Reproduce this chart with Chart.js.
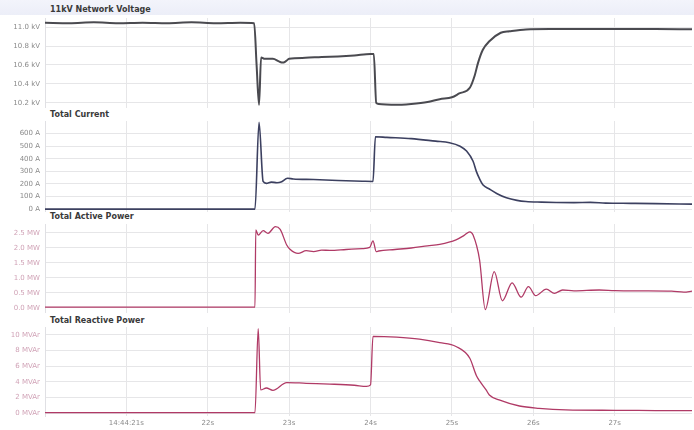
<!DOCTYPE html>
<html>
<head>
<meta charset="utf-8">
<script src="https://cdn.jsdelivr.net/npm/chart.js@4/dist/chart.umd.min.js"></script>
<style>
  html, body { margin: 0; padding: 0; background: #fff; }
  #wrap { position: relative; width: 694px; height: 430px; overflow: hidden; background: #fff; }
  #band { position: absolute; left: 0; top: 0; width: 694px; height: 15px; background: linear-gradient(#f3f4fb, #eceef8); }
  .panel { position: absolute; left: 0; width: 694px; }
  .ttl { position: absolute; left: 50px; font: bold 8px "DejaVu Sans", sans-serif; color: #3a3a3a; white-space: nowrap; }
</style>
</head>
<body>
<div id="wrap">
  <div id="band"></div>
  <div class="ttl" style="top:5px">11kV Network Voltage</div>
  <div class="panel" style="top:18px;height:90px"><canvas id="cVoltage"></canvas></div>
  <div class="ttl" style="top:110px">Total Current</div>
  <div class="panel" style="top:121px;height:91px"><canvas id="cCurrent"></canvas></div>
  <div class="ttl" style="top:212px">Total Active Power</div>
  <div class="panel" style="top:224px;height:89px"><canvas id="cActive"></canvas></div>
  <div class="ttl" style="top:316px">Total Reactive Power</div>
  <div class="panel" style="top:327px;height:103px"><canvas id="cReactive"></canvas></div>
</div>
<script>
// Time axis (seconds past 14:44:00)
const timeTicks = [21, 22, 23, 24, 25, 26, 27];
const timeTickLabels = ['14:44:21s', '22s', '23s', '24s', '25s', '26s', '27s'];

// 11 kV network voltage (kV)
const voltageTimes = [20.00, 20.30, 20.60, 20.90, 21.20, 21.50, 21.80, 22.10, 22.40, 22.57,
  22.60, 22.63, 22.655, 22.70, 22.80, 22.88, 22.92, 22.96, 23.00, 23.20, 23.40, 23.60, 23.80, 24.00, 24.04,
  24.07, 24.10, 24.30, 24.50, 24.70, 24.85, 25.00, 25.09, 25.22, 25.28, 25.32, 25.38, 25.46, 25.60, 25.71, 25.91,
  26.20, 26.60, 27.00, 27.50, 27.95];
const voltageValues = [11.045, 11.04, 11.05, 11.04, 11.045, 11.04, 11.05, 11.04, 11.045, 11.04,
  10.60, 10.18, 10.68, 10.665, 10.665, 10.635, 10.625, 10.64, 10.665, 10.675, 10.685, 10.69, 10.70, 10.715, 10.715,
  10.20, 10.19, 10.18, 10.19, 10.21, 10.24, 10.26, 10.30, 10.36, 10.49, 10.62, 10.76, 10.85, 10.94, 10.955, 10.975,
  10.98, 10.98, 10.978, 10.978, 10.976];

// Total current (A)
const currentTimes = [20.00, 21.00, 22.00, 22.58, 22.63, 22.68, 22.72, 22.78, 22.85, 22.90, 22.98, 23.05, 23.30,
  23.60, 23.90, 24.03, 24.06, 24.20, 24.50, 24.80, 24.97, 25.10, 25.18, 25.26, 25.30, 25.34, 25.38, 25.46, 25.55,
  25.67, 25.80, 25.91, 26.10, 26.28, 26.50, 26.70, 26.89, 27.20, 27.50, 27.95];
const currentValues = [0, 0, 0, 0, 690, 220, 205, 215, 210, 215, 245, 240, 235,
  228, 222, 220, 575, 570, 560, 540, 528, 500, 461, 380, 300, 240, 194, 160, 125,
  90, 70, 61, 56, 53, 52, 54, 48, 46, 44, 40];

// Total active power (MW)
const activeTimes = [20.00, 21.00, 22.00, 22.58, 22.59, 22.62, 22.68, 22.74, 22.83, 22.89, 22.97, 23.01, 23.11,
  23.21, 23.30, 23.40, 23.50, 23.70, 23.90, 23.99, 24.03, 24.07, 24.10, 24.30, 24.50, 24.70, 24.85, 25.05, 25.15,
  25.22, 25.26, 25.34, 25.41, 25.52, 25.62, 25.74, 25.85, 25.94, 26.03, 26.16, 26.26, 26.36, 26.50, 26.81, 27.00,
  27.30, 27.70, 27.85, 27.95];
const activeValues = [0.03, 0.03, 0.03, 0.03, 2.60, 2.43, 2.58, 2.49, 2.71, 2.62, 2.10, 1.96, 1.82,
  1.91, 1.88, 1.93, 1.92, 1.95, 1.98, 2.02, 2.24, 1.88, 1.90, 1.95, 2.00, 2.07, 2.12, 2.27, 2.42,
  2.54, 2.43, 1.60, -0.05, 1.21, 0.24, 0.84, 0.36, 0.71, 0.41, 0.63, 0.49, 0.60, 0.57, 0.60, 0.58,
  0.57, 0.56, 0.53, 0.56];

// Total reactive power (MVAr)
const reactiveTimes = [20.00, 21.00, 22.00, 22.58, 22.62, 22.65, 22.72, 22.80, 22.97, 23.21, 23.50, 23.80, 23.95,
  24.00, 24.03, 24.32, 24.60, 24.85, 25.05, 25.22, 25.30, 25.34, 25.42, 25.46, 25.58, 25.83, 26.07, 26.40, 27.00,
  27.50, 27.95];
const reactiveValues = [0.05, 0.05, 0.05, 0.05, 10.8, 2.95, 3.2, 2.9, 3.9, 3.8, 3.7, 3.55, 3.4,
  3.6, 9.8, 9.7, 9.45, 9.0, 8.5, 7.0, 4.8, 4.1, 2.95, 2.3, 1.67, 0.9, 0.6, 0.4, 0.35,
  0.32, 0.3];

// Y-axis ticks per panel
const voltageTicks = [10.2, 10.4, 10.6, 10.8, 11.0];
const currentTicks = [0, 100, 200, 300, 400, 500, 600];
const activeTicks = [0, 0.5, 1.0, 1.5, 2.0, 2.5];
const reactiveTicks = [0, 2, 4, 6, 8, 10];

const GRID = '#e6e6e8';
const FONT = { family: '"DejaVu Sans", sans-serif', size: 7 };

function toPoints(ts, vs) { return ts.map((t, i) => ({ x: t, y: vs[i] })); }

function makePanel(id, opts) {
  const xScale = {
    type: 'linear', min: 20.0, max: 27.95,
    afterBuildTicks: s => { s.ticks = timeTicks.map(v => ({ value: v })); },
    grid: { color: GRID, drawTicks: false },
    border: { display: false },
    ticks: {
      display: opts.showX, autoSkip: false, maxRotation: 0, padding: 3,
      color: '#8a8a8a', font: FONT,
      callback: v => timeTickLabels[timeTicks.indexOf(v)] ?? ''
    },
    afterFit: s => { s.height = opts.showX ? 14 : 0; s.paddingLeft = 0; s.paddingRight = 0; }
  };
  const yScale = {
    type: 'linear', min: opts.min, max: opts.max,
    afterBuildTicks: s => { s.ticks = opts.ticks.map(v => ({ value: v })); },
    grid: { color: GRID, drawTicks: false },
    border: { display: true, color: '#e0e0e4' },
    ticks: { padding: 5, color: opts.tickColor, font: FONT, callback: opts.fmt },
    afterFit: s => { s.width = 45; s.paddingTop = 0; s.paddingBottom = 0; }
  };
  return new Chart(document.getElementById(id), {
    type: 'line',
    data: {
      datasets: [{
        data: toPoints(opts.times, opts.values),
        borderColor: opts.color,
        borderWidth: opts.width,
        pointRadius: 0,
        cubicInterpolationMode: 'monotone',
        fill: false
      }]
    },
    options: {
      responsive: true,
      maintainAspectRatio: false,
      animation: false,
      parsing: false,
      layout: { padding: { left: 0, right: 2, top: 0, bottom: 0 } },
      plugins: { legend: { display: false }, tooltip: { enabled: false }, title: { display: false } },
      scales: { x: xScale, y: yScale }
    }
  });
}

makePanel('cVoltage', {
  times: voltageTimes, values: voltageValues, color: '#4a4a50', width: 2,
  min: 10.147, max: 11.095, ticks: voltageTicks, tickColor: '#8a8a8a',
  fmt: v => v.toFixed(1) + ' kV', showX: false
});
makePanel('cCurrent', {
  times: currentTimes, values: currentValues, color: '#3c4060', width: 1.6,
  min: -22.5, max: 700, ticks: currentTicks, tickColor: '#8a8a8a',
  fmt: v => v + ' A', showX: false
});
makePanel('cActive', {
  times: activeTimes, values: activeValues, color: '#b03a66', width: 1.3,
  min: -0.167, max: 2.8, ticks: activeTicks, tickColor: '#d0a2b6',
  fmt: v => v.toFixed(1) + ' MW', showX: false
});
makePanel('cReactive', {
  times: reactiveTimes, values: reactiveValues, color: '#b03a66', width: 1.3,
  min: -0.38, max: 11.0, ticks: reactiveTicks, tickColor: '#d0a2b6',
  fmt: v => v + ' MVAr', showX: true
});
</script>
</body>
</html>
